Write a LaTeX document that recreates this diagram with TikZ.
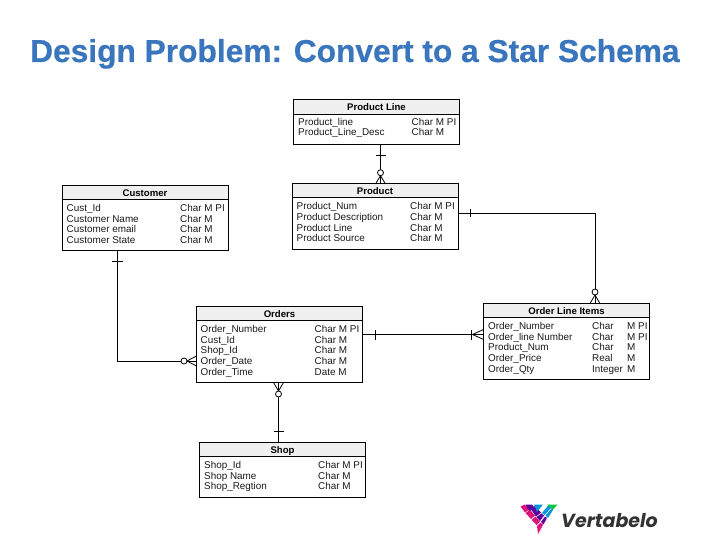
\documentclass[tikz,border=0pt]{standalone}
\usepackage{fontspec}
\setmainfont{Liberation Sans}
\newfontfamily\logofont{Poppins}
\newfontface\titleface[FakeBold=0.5]{Liberation Sans Bold}
\usetikzlibrary{calc}
\definecolor{titleblue}{HTML}{3A76BD}
\definecolor{hdrgray}{HTML}{F0F0F0}
\definecolor{rowink}{HTML}{1A1A1A}
\tikzset{
  x=1pt,y=-1pt,
  ertitle/.style={font=\fontsize{9.6}{10}\selectfont\bfseries,anchor=base,inner sep=0pt,text=black},
  errow/.style={font=\fontsize{9.9}{10}\selectfont,anchor=base west,inner sep=0pt,text=rowink},
  erbox/.style={draw=black,line width=1pt,inner sep=0pt,outer sep=0pt,anchor=north west},
  erhead/.style={draw=black,line width=1pt,fill=hdrgray,inner sep=0pt,outer sep=0pt,anchor=north west},
  link/.style={draw=black,line width=0.9pt},
  foot/.style={draw=black,line width=0.8pt},
  ring/.style={circle,draw=black,line width=0.8pt,fill=white,minimum size=6pt,inner sep=0pt,outer sep=0pt},
  maintitle/.style={font=\titleface\fontsize{31.7}{34}\selectfont,text=titleblue,anchor=base west,inner sep=0pt},
}
% name, left, top, right, header bottom, bottom, title
\newcommand{\ertable}[7]{%
  \node[erbox,minimum width=#4pt-#2pt,minimum height=#6pt-#3pt,fill=white] (#1) at (#2,#3) {};
  \node[erhead,minimum width=#4pt-#2pt,minimum height=#5pt-#3pt] (#1head) at (#2,#3) {};
  \path let \p1=(#1head.center) in node[ertitle] (#1title) at (\x1,#3+10.6) {#7};
}
\begin{document}
\begin{tikzpicture}
\useasboundingbox (0,0) rectangle (720,540);
\fill[white] (0,0) rectangle (720,540);
\node[maintitle] (maintitle) at (30,62) {Design Problem: Convert to a Star Schema};

\ertable{pl}{293.5}{99.5}{459.5}{114.5}{144.5}{Product Line}
\node[errow] (pla) at (298,125.3) {Product\_line};
\node[errow] (plb) at (298,136) {Product\_Line\_Desc};
\node[errow] (plc) at (411.5,125.3) {Char M PI};
\node[errow] (pld) at (411.5,136) {Char M};

\ertable{pr}{292}{184}{458}{198}{249}{Product}
\node[errow] (pra) at (296.5,209.8) {Product\_Num};
\node[errow] (prb) at (296.5,220.5) {Product Description};
\node[errow] (prc) at (296.5,231.2) {Product Line};
\node[errow] (prd) at (296.5,241.9) {Product Source};
\node[errow] (pre) at (410,209.8) {Char M PI};
\node[errow] (prf) at (410,220.5) {Char M};
\node[errow] (prg) at (410,231.2) {Char M};
\node[errow] (prh) at (410,241.9) {Char M};

\ertable{cu}{62}{186}{228}{199.5}{250.5}{Customer}
\node[errow] (cua) at (66.5,211.5) {Cust\_Id};
\node[errow] (cub) at (66.5,222.2) {Customer Name};
\node[errow] (cuc) at (66.5,232.9) {Customer email};
\node[errow] (cud) at (66.5,243.6) {Customer State};
\node[errow] (cue) at (180,211.5) {Char M PI};
\node[errow] (cuf) at (180,222.2) {Char M};
\node[errow] (cug) at (180,232.9) {Char M};
\node[errow] (cuh) at (180,243.6) {Char M};

\ertable{or}{196.5}{306.5}{362.5}{320.5}{382.5}{Orders}
\node[errow] (ora) at (200.5,332.5) {Order\_Number};
\node[errow] (orb) at (200.5,343.2) {Cust\_Id};
\node[errow] (orc) at (200.5,353.9) {Shop\_Id};
\node[errow] (ord) at (200.5,364.6) {Order\_Date};
\node[errow] (ore) at (200.5,375.3) {Order\_Time};
\node[errow] (orf) at (314.5,332.5) {Char M PI};
\node[errow] (org) at (314.5,343.2) {Char M};
\node[errow] (orh) at (314.5,353.9) {Char M};
\node[errow] (ori) at (314.5,364.6) {Char M};
\node[errow] (orj) at (314.5,375.3) {Date M};

\ertable{sh}{199.5}{442.5}{365.5}{456.5}{497}{Shop}
\node[errow] (sha) at (204,468.5) {Shop\_Id};
\node[errow] (shb) at (204,479.2) {Shop Name};
\node[errow] (shc) at (204,489.9) {Shop\_Regtion};
\node[errow] (shd) at (318,468.5) {Char M PI};
\node[errow] (she) at (318,479.2) {Char M};
\node[errow] (shf) at (318,489.9) {Char M};

\ertable{ol}{483.5}{303.5}{649.5}{317.5}{379.5}{Order Line Items}
\node[errow] (ola) at (488,329.5) {Order\_Number};
\node[errow] (olb) at (488,340.2) {Order\_line Number};
\node[errow] (olc) at (488,350.9) {Product\_Num};
\node[errow] (old) at (488,361.6) {Order\_Price};
\node[errow] (ole) at (488,372.3) {Order\_Qty};
\node[errow] (olf) at (592,329.5) {Char};
\node[errow] (olg) at (592,340.2) {Char};
\node[errow] (olh) at (592,350.9) {Char};
\node[errow] (oli) at (592,361.6) {Real};
\node[errow] (olj) at (592,372.3) {Integer};
\node[errow] (olk) at (627,329.5) {M PI};
\node[errow] (oll) at (627,340.2) {M PI};
\node[errow] (olm) at (627,350.9) {M};
\node[errow] (oln) at (627,361.6) {M};
\node[errow] (olo) at (627,372.3) {M};

% Product Line -- Product
\coordinate (c1a) at ([xshift=87pt]pl.south west);
\coordinate (c1b) at ([xshift=88.5pt]pr.north west);
\draw[link] (c1a) -- (c1b);
\draw[foot] ($(c1a)+(-5,10.5)$) -- ($(c1a)+(5,10.5)$);
\node[ring] (r1) at ($(c1b)+(0,-11.3)$) {};
\draw[foot] (r1.south) -- ($(c1b)+(-5,0)$) (r1.south) -- ($(c1b)+(5,0)$);

% Product -- Order Line Items
\coordinate (c2a) at ([yshift=35.5pt]pr.south east);
\coordinate (c2b) at ([xshift=111.5pt]ol.north west);
\draw[link] (c2a) -| (c2b);
\draw[foot] ($(c2a)+(12.5,-4)$) -- ($(c2a)+(12.5,4)$);
\node[ring] (r2) at ($(c2b)+(0,-11.5)$) {};
\draw[foot] (r2.south) -- ($(c2b)+(-5,0)$) (r2.south) -- ($(c2b)+(5,0)$);

% Customer -- Orders
\coordinate (c3a) at ([xshift=55.5pt]cu.south west);
\coordinate (c3b) at ([yshift=21.5pt]or.south west);
\draw[link] (c3a) |- (c3b);
\draw[foot] ($(c3a)+(-5.5,11)$) -- ($(c3a)+(5.5,11)$);
\node[ring] (r3) at ($(c3b)+(-12.5,0)$) {};
\draw[foot] (r3.east) -- ($(c3b)+(0,-5)$) (r3.east) -- ($(c3b)+(0,5)$);

% Orders -- Order Line Items
\coordinate (c4a) at ([yshift=48pt]or.south east);
\coordinate (c4b) at ([yshift=45pt]ol.south west);
\draw[link] (c4a) -- (c4b);
\draw[foot] ($(c4a)+(13,-5)$) -- ($(c4a)+(13,5)$);
\draw[foot] ($(c4b)+(-12.5,-5)$) -- ($(c4b)+(-12.5,5)$);
\draw[foot] ($(c4b)+(-11,0)$) -- ($(c4b)+(0,-5)$) ($(c4b)+(-11,0)$) -- ($(c4b)+(0,5)$);

% Orders -- Shop
\coordinate (c5a) at ([xshift=82pt]or.south west);
\coordinate (c5b) at ([xshift=79pt]sh.north west);
\draw[link] (c5a) -- (c5b);
\draw[foot] ($(c5b)+(-5,-11.5)$) -- ($(c5b)+(5,-11.5)$);
\node[ring] (r5) at ($(c5a)+(0,11.5)$) {};
\draw[foot] (r5.north) -- ($(c5a)+(-5,0)$) (r5.north) -- ($(c5a)+(5,0)$);

% Logo
\fill[magenta!70!purple] (520.5,506.5) -- (524.5,504.5) -- (529.5,509.5) -- (525,512.5) -- cycle;
\fill[violet!75!blue] (525.5,504.5) -- (532,504.5) -- (534,507) -- (529.5,512) -- cycle;
\fill[magenta!70!purple] (525.5,513) -- (530,510) -- (535,515.5) -- (531,519) -- cycle;
\fill[violet!75!blue] (531,509.5) -- (535,506) -- (541,512.5) -- (536,516.5) -- cycle;
\fill[cyan!80!blue] (534,504.5) -- (543,504.5) -- (537,512) -- cycle;
\fill[magenta!70!purple] (531.5,520) -- (535.5,516.5) -- (540,521.5) -- (536.5,525) -- cycle;
\fill[violet!75!blue] (536.5,517) -- (541.5,513.5) -- (544,515.5) -- (540,521) -- cycle;
\fill[cyan!80!blue] (542,513) -- (549,504.5) -- (552,507) -- (544.5,515) -- cycle;
\fill[magenta!70!purple] (537,526) -- (540.5,522.5) -- (543,525) -- (538,534) -- cycle;
\fill[violet!75!blue] (541,522) -- (545,516.5) -- (547,518) -- (543.5,524.5) -- cycle;
\fill[cyan!80!blue] (545.5,515.5) -- (552.5,507.5) -- (553,510) -- (548,518) -- cycle;
\fill[green!55!teal] (547,504.5) -- (557.5,504.5) -- (553,509.5) -- cycle;
\node[font=\logofont\fontsize{19}{20}\selectfont\itshape\bfseries,text=black!80,anchor=base west,inner sep=0pt] (logo) at (561,527) {Vertabelo};
\end{tikzpicture}
\end{document}
